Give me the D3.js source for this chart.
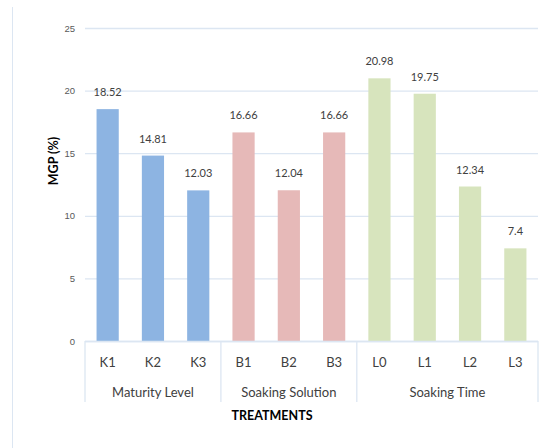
<!DOCTYPE html>
<html>
<head>
<meta charset="utf-8">
<script src="https://cdn.jsdelivr.net/npm/d3@7"></script>
<style>
  body { margin: 0; background: #fff; }
  svg { font-family: Lato, "Open Sans", sans-serif; }
</style>
</head>
<body>
<div id="chart"></div>
<script>
(function() {

// data
let categories = ["K1", "K2", "K3", "B1", "B2", "B3", "L0", "L1", "L2", "L3"];
let values = [18.52, 14.81, 12.03, 16.66, 12.04, 16.66, 20.98, 19.75, 12.34, 7.4];
let valueLabels = ["18.52", "14.81", "12.03", "16.66", "12.04", "16.66", "20.98", "19.75", "12.34", "7.4"];
let groups = ["Maturity Level", "Soaking Solution", "Soaking Time"];
let groupSizes = [3, 3, 4];
let groupColors = ["#8DB4E2", "#E6B9B8", "#D7E4BD"];
let yTicks = [0, 5, 10, 15, 20, 25];

let width = 552, height = 448;
let margin = {top: 28, right: 14, bottom: 107, left: 85};
let plotW = width - margin.left - margin.right;
let plotH = height - margin.top - margin.bottom;

let xScale = d3.scaleBand().domain(categories).range([0, plotW]).paddingInner(0.51).paddingOuter(0.255);
let yScale = d3.scaleLinear().domain([0, 25]).range([plotH, 0]);

// which group each bar belongs to
let groupOf = [];
groups.forEach((g, gi) => { for (let k = 0; k < groupSizes[gi]; k++) groupOf.push(gi); });

let svg = d3.select("#chart").append("svg")
    .attr("width", width)
    .attr("height", height);

// left frame line
svg.append("line")
    .attr("x1", 12.5).attr("x2", 12.5)
    .attr("y1", 7).attr("y2", height)
    .attr("stroke", "#DCE6F2").attr("stroke-width", 1);

let g = svg.append("g")
    .attr("transform", "translate(" + margin.left + "," + margin.top + ")");

// y axis: gridlines + labels
let yAxis = g.append("g")
    .call(d3.axisLeft(yScale).tickValues(yTicks).tickSize(-plotW).tickPadding(10));
yAxis.select(".domain").remove();
yAxis.selectAll(".tick line").attr("stroke", "#DCE6F2").attr("stroke-width", 1.3);
yAxis.selectAll(".tick text").attr("fill", "#595959").attr("font-size", 9.5);

// bars
g.selectAll("rect.bar")
    .data(values)
  .enter().append("rect")
    .attr("class", "bar")
    .attr("x", (d, i) => xScale(categories[i]))
    .attr("width", xScale.bandwidth())
    .attr("y", (d) => yScale(d))
    .attr("height", (d) => plotH - yScale(d))
    .attr("fill", (d, i) => groupColors[groupOf[i]]);

// value labels
g.selectAll("text.val")
    .data(values)
  .enter().append("text")
    .attr("class", "val")
    .attr("x", (d, i) => xScale(categories[i]) + xScale.bandwidth() / 2)
    .attr("y", (d) => yScale(d) - 13)
    .attr("text-anchor", "middle")
    .attr("font-size", 11)
    .attr("fill", "#404040")
    .text((d, i) => valueLabels[i]);

// category axis
let step = xScale.step();
let axisG = g.append("g").attr("transform", "translate(0," + plotH + ")");
axisG.append("line")
    .attr("x1", 0).attr("x2", plotW).attr("y1", 0.5).attr("y2", 0.5)
    .attr("stroke", "#DCE6F2").attr("stroke-width", 1.3);

let bounds = [0];
groupSizes.forEach((n, i) => bounds.push(bounds[i] + n));
axisG.selectAll("line.sep")
    .data(bounds)
  .enter().append("line")
    .attr("class", "sep")
    .attr("x1", (d) => d * step).attr("x2", (d) => d * step)
    .attr("y1", 0).attr("y2", 61)
    .attr("stroke", "#DCE6F2").attr("stroke-width", 1.3);

axisG.selectAll("text.cat")
    .data(categories)
  .enter().append("text")
    .attr("class", "cat")
    .attr("x", (d) => xScale(d) + xScale.bandwidth() / 2)
    .attr("y", 26)
    .attr("text-anchor", "middle")
    .attr("font-size", 13)
    .attr("fill", "#404040")
    .text((d) => d);

axisG.selectAll("text.grp")
    .data(groups)
  .enter().append("text")
    .attr("class", "grp")
    .attr("x", (d, i) => (bounds[i] + bounds[i + 1]) / 2 * step)
    .attr("y", 56)
    .attr("text-anchor", "middle")
    .attr("font-size", 13)
    .attr("fill", "#404040")
    .text((d) => d);

// axis titles
svg.append("text")
    .attr("x", 272).attr("y", 420)
    .attr("text-anchor", "middle")
    .attr("font-size", 12.5)
    .attr("font-weight", "bold")
    .attr("fill", "#000")
    .text("TREATMENTS");

svg.append("text")
    .attr("transform", "translate(58,161) rotate(-90)")
    .attr("text-anchor", "middle")
    .attr("font-size", 12.5)
    .attr("font-weight", "bold")
    .attr("fill", "#000")
    .text("MGP (%)");

})();
</script>
</body>
</html>
